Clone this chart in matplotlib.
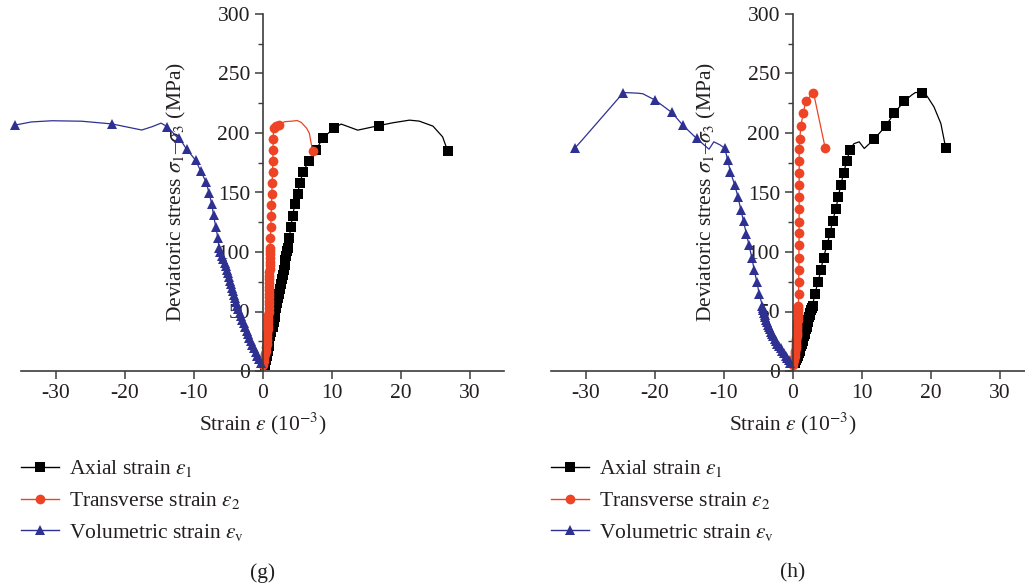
import matplotlib
matplotlib.use("Agg")
import matplotlib.pyplot as plt
from matplotlib.lines import Line2D
from matplotlib.ticker import MultipleLocator

plt.rcParams["font.family"] = ["Liberation Serif", "DejaVu Serif"]
plt.rcParams["mathtext.fontset"] = "stix"
plt.rcParams["axes.unicode_minus"] = False

BLACK = "#000000"
RED = "#ee4324"
BLUE = "#2e3192"
TEXT = "#231f20"
SPINE = "#3c3c3c"

# ---------------- panel (g) ----------------
# axial strain: dense early points, then the sparser tail
g_ax_dense_x = [0.30, 0.45, 0.60, 0.75, 0.88, 1.00, 1.15, 1.30, 1.45, 1.60, 1.75, 1.88, 2.02,
                2.15, 2.28, 2.42, 2.55, 2.68, 2.82, 2.95, 3.08, 3.20, 3.32, 3.45, 3.58]
g_ax_dense_y = [5, 9, 13, 17, 21, 25, 29, 33, 37, 41, 45, 49, 53,
                57, 61, 65, 69, 73, 77, 81, 85, 89, 93, 97, 101]
g_ax_tail_x = [3.63, 3.87, 4.11, 4.35, 4.69, 5.08, 5.42, 5.9, 6.68, 7.74, 8.7, 10.4, 11.4, 13.8,
               16.93, 18.9, 21.3, 22.7, 24.7, 26.1, 26.85]
g_ax_tail_y = [103, 112, 121, 130, 140, 149, 158, 167.4, 176.3, 185.6, 195.4, 204.4, 207.5, 202.4,
               206.3, 208.6, 210.8, 210, 205.8, 196.8, 184.7]
g_ax_mark_x = [3.63, 3.87, 4.11, 4.35, 4.69, 5.08, 5.42, 5.9, 6.68, 7.74, 8.7, 10.4, 16.93, 26.85]
g_ax_mark_y = [103, 112, 121, 130, 140, 149, 158, 167.4, 176.3, 185.6, 195.4, 204.4, 206.3, 184.7]

# transverse strain
g_tr_dense_x = [0.10, 0.20, 0.28, 0.36, 0.44, 0.52, 0.58, 0.63, 0.68, 0.72, 0.76, 0.79, 0.82,
                0.84, 0.86, 0.88, 0.90, 0.91, 0.92, 0.93, 0.95, 0.96, 0.97, 0.98, 0.99, 1.00,
                1.01, 1.02, 1.03, 1.04, 1.05, 1.06, 1.07]
g_tr_dense_y = [5, 8, 11, 14, 17, 20, 23, 26, 29, 32, 35, 38, 41, 44, 47, 50, 53, 56, 59, 62,
                65, 68, 71, 74, 77, 80, 83, 86, 89, 92, 95, 98, 101]
g_tr_tail_x = [1.10, 1.15, 1.20, 1.25, 1.30, 1.35, 1.40, 1.45, 1.50, 1.52, 1.55, 1.60, 2.0, 2.4,
               3.2, 4.35, 5.0, 5.6, 6.4, 6.8, 7.0, 7.26]
g_tr_tail_y = [103, 112, 121, 130.4, 139.6, 148.9, 158, 167.4, 176.6, 185.9, 195, 204.4, 206,
               206.6, 209.5, 210, 210.5, 209, 204, 199.6, 193, 185]
g_tr_mark_x = [1.10, 1.15, 1.20, 1.25, 1.30, 1.35, 1.40, 1.45, 1.50, 1.52, 1.55, 1.60, 2.0, 2.4, 7.26]
g_tr_mark_y = [103, 112, 121, 130.4, 139.6, 148.9, 158, 167.4, 176.6, 185.9, 195, 204.4, 206,
               206.6, 185]

# volumetric strain
g_vo_dense_x = [-0.25, -0.5, -0.75, -1.0, -1.25, -1.5, -1.7, -1.9, -2.1, -2.3, -2.5, -2.7, -2.9,
                -3.1, -3.3, -3.5, -3.65, -3.8, -3.95, -4.1, -4.25, -4.4, -4.55, -4.7, -4.85,
                -5.0, -5.15, -5.3, -5.5, -5.7, -5.9, -6.1]
g_vo_dense_y = [7, 10, 13, 16, 19, 22, 25, 28, 31, 34, 37, 40, 43, 46, 49, 52, 55, 58, 61, 64,
                67, 70, 73, 76, 79, 82, 85, 88, 91, 94, 97, 100]
g_vo_tail_x = [-6.3, -6.48, -6.77, -7.1, -7.35, -7.74, -8.2, -8.95, -9.7, -11.0, -12.1, -12.4,
               -13.8, -14.7, -16.0, -17.5, -21.8, -26.2, -30.5, -33.5, -35.9]
g_vo_tail_y = [103, 112, 121, 131, 140, 149.7, 159, 168, 177.2, 186.4, 196, 196.6,
               205.3, 208.3, 205.3, 202.5, 207.6, 209.9, 210.3, 209.3, 206.6]
g_vo_mark_x = [-6.3, -6.48, -6.77, -7.1, -7.35, -7.74, -8.2, -8.95, -9.7, -11.0, -12.1, -13.8,
               -21.8, -35.9]
g_vo_mark_y = [103, 112, 121, 131, 140, 149.7, 159, 168, 177.2, 186.4, 196, 205.3, 207.6, 206.6]

# ---------------- panel (h) ----------------
h_ax_dense_x = [0.40, 0.55, 0.68, 0.80, 0.92, 1.03, 1.14, 1.25, 1.36, 1.46, 1.56, 1.66, 1.76,
                1.85, 1.94, 2.03, 2.12, 2.21, 2.30, 2.39, 2.48, 2.58, 2.68, 2.80]
h_ax_dense_y = [7, 9, 11, 13, 15, 17, 19, 21, 23, 25, 27, 29, 31, 33, 35, 37, 39, 41, 43, 45,
                47, 49, 51, 53]
h_ax_tail_x = [2.9, 3.24, 3.72, 4.1, 4.5, 4.98, 5.46, 5.8, 6.3, 6.6, 7.0, 7.4, 7.87, 8.3, 8.9,
               9.66, 10.4, 11.8, 13.5, 14.7, 16.2, 17.3, 17.8, 18.7, 19.5, 20.5, 21.5, 22.2]
h_ax_tail_y = [54.7, 65, 74.9, 85.2, 95.3, 105.7, 116, 126, 136, 146, 156, 166.5, 176.3, 186,
               191, 192.6, 187, 194.6, 205.8, 216.4, 226.8, 232, 234, 234, 231, 222, 208, 187.6]
h_ax_mark_x = [2.9, 3.24, 3.72, 4.1, 4.5, 4.98, 5.46, 5.8, 6.3, 6.6, 7.0, 7.4, 7.87, 8.3,
               11.8, 13.5, 14.7, 16.2, 18.7, 22.2]
h_ax_mark_y = [54.7, 65, 74.9, 85.2, 95.3, 105.7, 116, 126, 136, 146, 156, 166.5, 176.3, 186,
               194.6, 205.8, 216.4, 226.8, 234, 187.6]

h_tr_dense_x = [0.05, 0.13, 0.20, 0.26, 0.31, 0.36, 0.40, 0.44, 0.48, 0.51, 0.54, 0.57, 0.60,
                0.62, 0.64, 0.66, 0.68, 0.70, 0.72, 0.74, 0.76, 0.78, 0.80, 0.82, 0.84]
h_tr_dense_y = [5, 7, 9, 11, 13, 15, 17, 19, 21, 23, 25, 27, 29, 31, 33, 35, 37, 39, 41, 43,
                45, 47, 49, 51, 53]
h_tr_tail_x = [0.86, 0.88, 0.90, 0.92, 0.93, 0.94, 0.95, 0.96, 0.96, 0.97, 0.97, 0.97, 0.97,
               0.97, 1.06, 1.2, 1.55, 1.93, 3.04, 4.73]
h_tr_tail_y = [54.4, 64.7, 74.9, 85, 95, 105.5, 115.7, 125.5, 136, 146, 156, 166, 176.5, 186.7,
               194.6, 205.8, 216.4, 226.8, 234, 187.6]
h_tr_mark_x = h_tr_tail_x
h_tr_mark_y = h_tr_tail_y

h_vo_dense_x = [-0.3, -0.55, -0.8, -1.0, -1.2, -1.45, -1.7, -1.95, -2.2, -2.4, -2.6, -2.78,
                -2.95, -3.1, -3.25, -3.4, -3.55, -3.7, -3.82, -3.94, -4.05, -4.15, -4.25, -4.33]
h_vo_dense_y = [7, 9, 11, 13, 15, 17, 19, 21, 23, 25, 27, 29, 31, 33, 35, 37, 39, 41, 43, 45,
                47, 49, 51, 53]
h_vo_tail_x = [-4.35, -4.83, -5.17, -5.56, -5.9, -6.3, -6.7, -7.1, -7.5, -7.9, -8.4, -9.0, -9.4,
               -9.8, -10.5, -11.4, -12.1, -13.9, -15.9, -17.5, -19.9, -21.7, -22.5, -24.5,
               -30.5, -31.5]
h_vo_tail_y = [54.4, 65, 74.9, 85.2, 95.3, 105.7, 115.5, 125.9, 135.7, 146.3, 156.7, 167.4,
               177.2, 187, 190, 192.6, 186.4, 195.4, 206.6, 217.3, 227.6, 233, 233.5, 234,
               194, 187.6]
h_vo_mark_x = [-4.35, -4.83, -5.17, -5.56, -5.9, -6.3, -6.7, -7.1, -7.5, -7.9, -8.4, -9.0, -9.4,
               -9.8, -13.9, -15.9, -17.5, -19.9, -24.5, -31.5]
h_vo_mark_y = [54.4, 65, 74.9, 85.2, 95.3, 105.7, 115.5, 125.9, 135.7, 146.3, 156.7, 167.4,
               177.2, 187, 195.4, 206.6, 217.3, 227.6, 234, 187.6]

X_TICKS = [-30, -20, -10, 0, 10, 20, 30]
LABELS = [r"Axial strain $\varepsilon_1$",
          r"Transverse strain $\varepsilon_2$",
          r"Volumetric strain $\varepsilon_\mathrm{v}$"]

FS = 15.5
MS = {"s": 6.6, "o": 7.0, "^": 7.8}


def draw_series(ax, dense_x, dense_y, tail_x, tail_y, mark_x, mark_y, color, marker):
    ax.plot(dense_x + tail_x, dense_y + tail_y, "-", color=color, lw=0.9, clip_on=False)
    ax.plot(dense_x + mark_x, dense_y + mark_y, marker, ls="none", color=color,
            ms=MS[marker], mew=0, clip_on=False)


def style_axes(ax, tag):
    ax.set_xlim(-35, 35)
    ax.set_ylim(0, 300)
    ax.spines["left"].set_position(("data", 0))
    ax.spines["top"].set_visible(False)
    ax.spines["right"].set_visible(False)
    for s in ("left", "bottom"):
        ax.spines[s].set_color(SPINE)
        ax.spines[s].set_linewidth(1.2)
    ax.set_xticks(X_TICKS)
    ax.set_yticks(range(0, 301, 50))
    ax.yaxis.set_minor_locator(MultipleLocator(25))
    ax.tick_params(direction="out", length=6, width=1.1, color=SPINE,
                   labelsize=FS, labelcolor=TEXT, pad=3)
    ax.tick_params(which="minor", direction="out", length=3.5, width=1.0, color=SPINE)
    ax.set_xlabel(r"Strain $\varepsilon$ (10$^{-3}$)", fontsize=FS, color=TEXT)
    ax.xaxis.set_label_coords(0.5, -0.11)
    ax.set_ylabel(r"Deviatoric stress $\sigma_1$–$\sigma_3$ (MPa)", fontsize=FS, color=TEXT)
    ax.yaxis.set_label_coords(0.345, 0.5)
    ax.set_zorder(1)

    handles = [
        Line2D([], [], color=BLACK, lw=1, marker="s", ms=6.6, mew=0),
        Line2D([], [], color=RED, lw=1, marker="o", ms=7.0, mew=0),
        Line2D([], [], color=BLUE, lw=1, marker="^", ms=7.8, mew=0),
    ]
    leg = ax.legend(handles, LABELS, loc="upper left", bbox_to_anchor=(0.0, -0.245),
                    frameon=False, fontsize=FS, handlelength=1.75, handletextpad=0.5,
                    labelspacing=0.5, borderaxespad=0, borderpad=0)
    for t in leg.get_texts():
        t.set_color(TEXT)
    ax.text(0.5, -0.565, tag, transform=ax.transAxes, ha="center", va="center",
            fontsize=FS, color=TEXT)


fig = plt.figure(figsize=(10.25, 5.86), dpi=100)
ax1 = fig.add_axes([21 / 1025, 215 / 586, 483 / 1025, 357 / 586])
ax2 = fig.add_axes([551 / 1025, 215 / 586, 483 / 1025, 357 / 586])

draw_series(ax1, g_ax_dense_x, g_ax_dense_y, g_ax_tail_x, g_ax_tail_y, g_ax_mark_x, g_ax_mark_y, BLACK, "s")
draw_series(ax1, g_tr_dense_x, g_tr_dense_y, g_tr_tail_x, g_tr_tail_y, g_tr_mark_x, g_tr_mark_y, RED, "o")
draw_series(ax1, g_vo_dense_x, g_vo_dense_y, g_vo_tail_x, g_vo_tail_y, g_vo_mark_x, g_vo_mark_y, BLUE, "^")
style_axes(ax1, "(g)")

draw_series(ax2, h_ax_dense_x, h_ax_dense_y, h_ax_tail_x, h_ax_tail_y, h_ax_mark_x, h_ax_mark_y, BLACK, "s")
draw_series(ax2, h_tr_dense_x, h_tr_dense_y, h_tr_tail_x, h_tr_tail_y, h_tr_mark_x, h_tr_mark_y, RED, "o")
draw_series(ax2, h_vo_dense_x, h_vo_dense_y, h_vo_tail_x, h_vo_tail_y, h_vo_mark_x, h_vo_mark_y, BLUE, "^")
style_axes(ax2, "(h)")

fig.savefig("out.png", dpi=100)
